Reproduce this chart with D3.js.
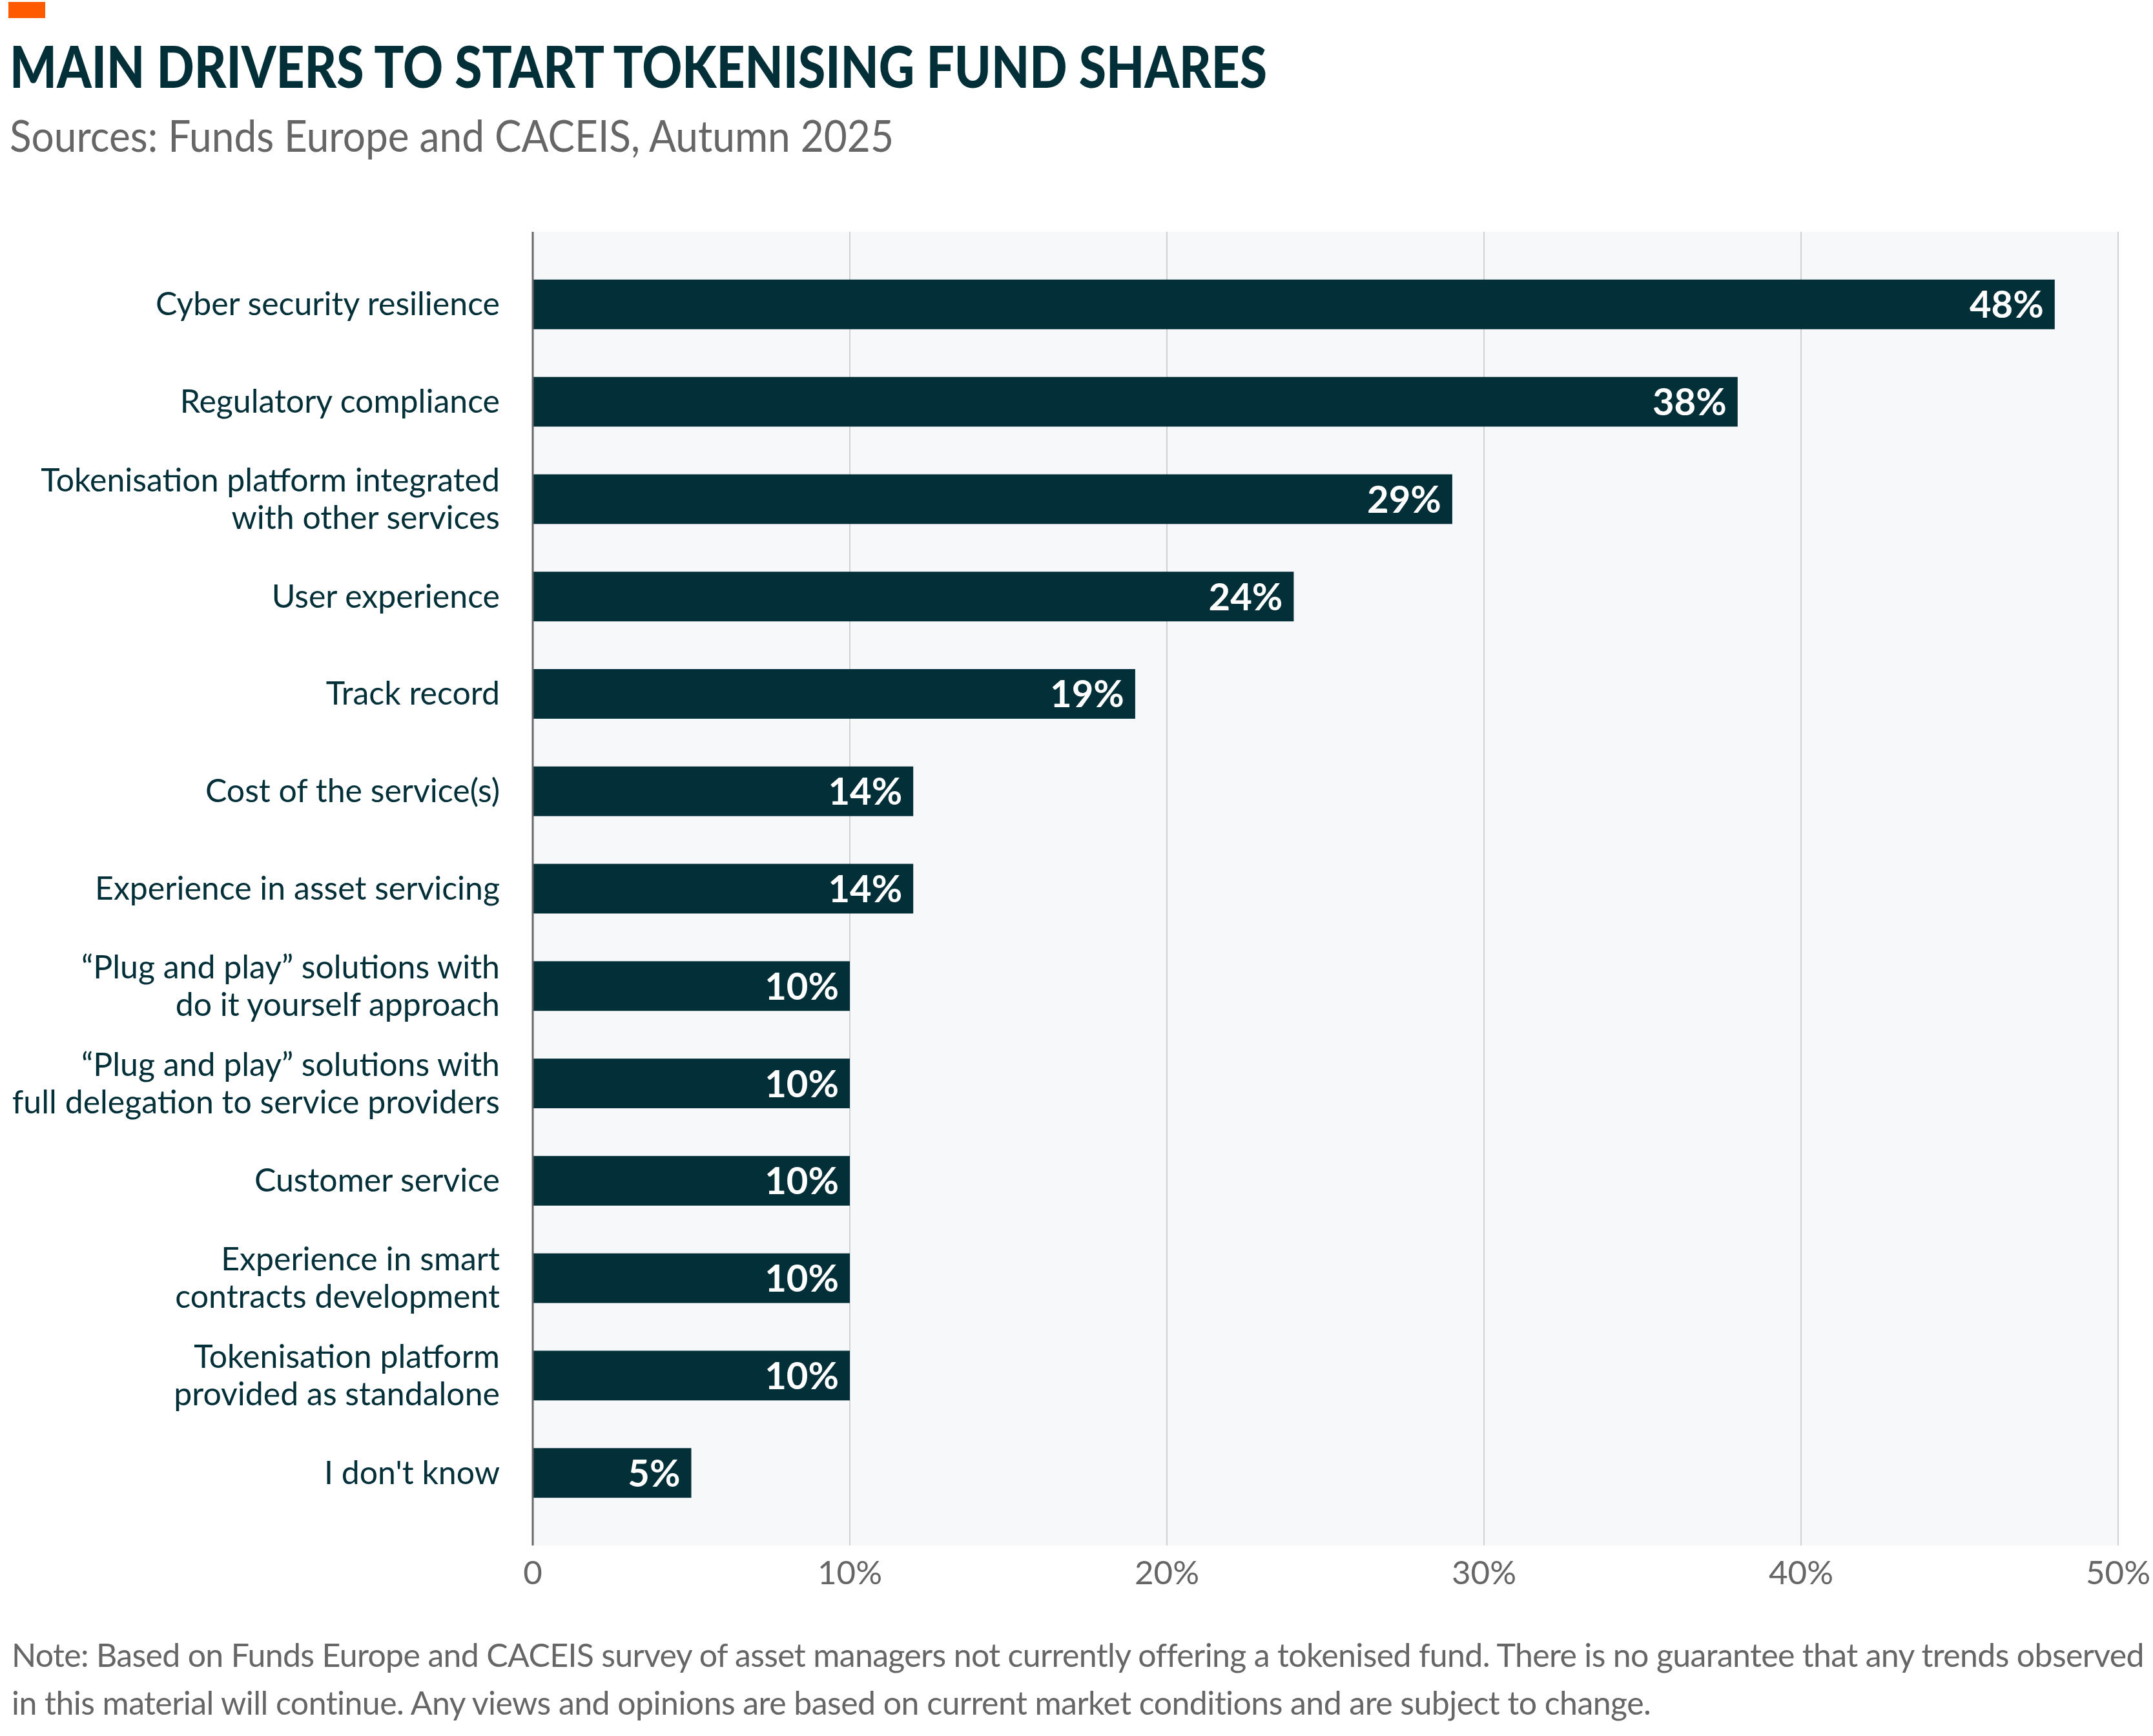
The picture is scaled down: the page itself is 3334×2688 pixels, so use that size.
<!DOCTYPE html>
<html>
<head>
<meta charset="utf-8">
<script src="https://cdn.jsdelivr.net/npm/d3@7"></script>
<style>
  body { margin: 0; background: #fff; }
  svg { display: block; }
</style>
</head>
<body>
<div id="chart"></div>
<script>
// Categories, top to bottom
const categories = [
    ["Cyber security resilience"],
    ["Regulatory compliance"],
    ["Tokenisation platform integrated", "with other services"],
    ["User experience"],
    ["Track record"],
    ["Cost of the service(s)"],
    ["Experience in asset servicing"],
    ["\u201cPlug and play\u201d solutions with", "do it yourself approach"],
    ["\u201cPlug and play\u201d solutions with", "full delegation to service providers"],
    ["Customer service"],
    ["Experience in smart", "contracts development"],
    ["Tokenisation platform", "provided as standalone"],
    ["I don't know"]
];

// Bar lengths as drawn in the picture (%)
const values = [48, 38, 29, 24, 19, 12, 12, 10, 10, 10, 10, 10, 5];

// Labels printed on the bars
const valueLabels = ["48%", "38%", "29%", "24%", "19%", "14%", "14%", "10%", "10%", "10%", "10%", "10%", "5%"];

// Axis ticks
const ticks = [0, 10, 20, 30, 40, 50];
const tickLabels = ["0", "10%", "20%", "30%", "40%", "50%"];

const noteLines = [
    "Note: Based on Funds Europe and CACEIS survey of asset managers not currently offering a tokenised fund. There is no guarantee that any trends observed",
    "in this material will continue. Any views and opinions are based on current market conditions and are subject to change."
];

const width = 3334;
const height = 2688;
const dark = "#022f38";
const font = "Lato, 'Open Sans', sans-serif";

const svg = d3.select("#chart")
    .append("svg")
    .attr("width", width)
    .attr("height", height);

// Orange accent
svg.append("rect")
    .attr("x", 13)
    .attr("y", 3)
    .attr("width", 57)
    .attr("height", 25)
    .attr("fill", "#ff5a00");

// Title and subtitle
svg.append("text")
    .attr("x", 15)
    .attr("y", 136)
    .attr("textLength", 1947)
    .attr("lengthAdjust", "spacingAndGlyphs")
    .style("font-family", font)
    .style("font-weight", "900")
    .style("font-size", "89px")
    .attr("fill", dark)
    .text("MAIN DRIVERS TO START TOKENISING FUND SHARES");

svg.append("text")
    .attr("x", 15)
    .attr("y", 235)
    .attr("textLength", 1369)
    .attr("lengthAdjust", "spacingAndGlyphs")
    .style("font-family", font)
    .style("font-size", "68px")
    .attr("fill", "#666666")
    .text("Sources: Funds Europe and CACEIS, Autumn 2025");

// Scales
const x = d3.scaleLinear().domain([0, 50]).range([825, 3280]);
const y = d3.scaleBand()
    .domain(d3.range(categories.length))
    .range([359, 2393])
    .padding(0.49);

// Plot background
svg.append("rect")
    .attr("x", x(0))
    .attr("y", 359)
    .attr("width", x(50) - x(0))
    .attr("height", 2393 - 359)
    .attr("fill", "#f7f8fa");

// Gridlines
svg.selectAll(".grid")
    .data(ticks.slice(1))
    .enter()
    .append("line")
    .attr("x1", d => x(d))
    .attr("x2", d => x(d))
    .attr("y1", 359)
    .attr("y2", 2393)
    .attr("stroke", "#cfd1d4")
    .attr("stroke-width", 2);

// Bars
svg.selectAll(".bar")
    .data(values)
    .enter()
    .append("rect")
    .attr("x", x(0))
    .attr("y", (d, i) => y(i))
    .attr("width", d => x(d) - x(0))
    .attr("height", y.bandwidth())
    .attr("fill", dark);

// Value labels inside bars
svg.selectAll(".val")
    .data(values)
    .enter()
    .append("text")
    .attr("x", d => x(d) - 17)
    .attr("y", (d, i) => y(i) + y.bandwidth() / 2 + 21)
    .attr("text-anchor", "end")
    .style("font-family", font)
    .style("font-weight", "700")
    .style("font-size", "58px")
    .attr("fill", "#ffffff")
    .text((d, i) => valueLabels[i]);

// Category labels
const cat = svg.selectAll(".cat")
    .data(categories)
    .enter()
    .append("text")
    .attr("text-anchor", "end")
    .style("font-family", font)
    .style("font-size", "50px")
    .attr("fill", dark);

cat.each(function(lines, i) {
    const c = y(i) + y.bandwidth() / 2;
    const first = lines.length === 1 ? c + 17 : c - 12;
    lines.forEach((line, j) => {
        d3.select(this).append("tspan")
            .attr("x", 774)
            .attr("y", first + j * 58)
            .text(line);
    });
});

// Axis line
svg.append("line")
    .attr("x1", x(0))
    .attr("x2", x(0))
    .attr("y1", 359)
    .attr("y2", 2393)
    .attr("stroke", "#666666")
    .attr("stroke-width", 3);

// Tick labels
svg.selectAll(".tick")
    .data(ticks)
    .enter()
    .append("text")
    .attr("x", d => x(d))
    .attr("y", 2453)
    .attr("text-anchor", "middle")
    .style("font-family", font)
    .style("font-size", "51px")
    .attr("fill", "#666666")
    .text((d, i) => tickLabels[i]);

// Note: tighten letter spacing so each line ends where the reference's does
const noteWidths = [3300, 2540];
svg.selectAll(".note")
    .data(noteLines)
    .enter()
    .append("text")
    .attr("x", 18)
    .attr("y", (d, i) => 2581 + i * 74)
    .style("font-family", font)
    .style("font-size", "50px")
    .attr("fill", "#666666")
    .text(d => d)
    .each(function(d, i) {
        const natural = this.getComputedTextLength();
        const ls = (noteWidths[i] - natural) / d.length;
        d3.select(this).style("letter-spacing", Math.min(0, ls) + "px");
    });
</script>
</body>
</html>
